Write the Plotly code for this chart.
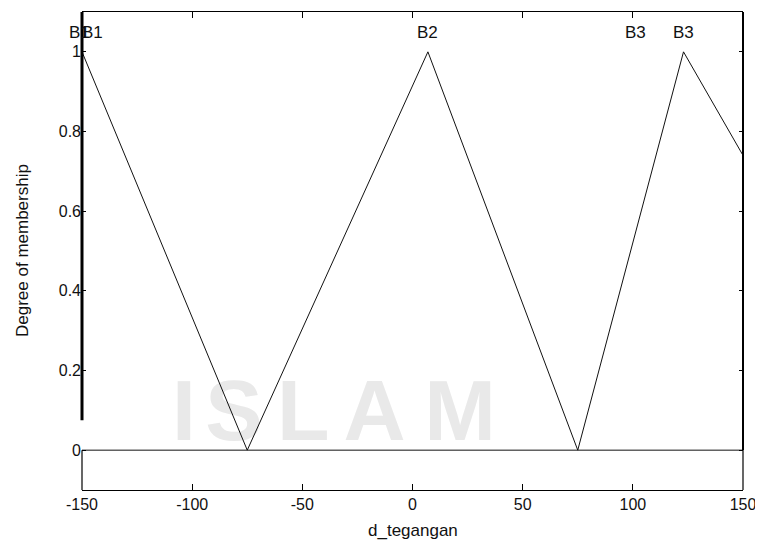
import plotly.graph_objects as go

# ---- data ----
x_ticks = [-150, -100, -50, 0, 50, 100, 150]
x_tick_labels = ["-150", "-100", "-50", "0", "50", "100", "150"]
y_ticks = [0, 0.2, 0.4, 0.6, 0.8, 1]
y_tick_labels = ["0", "0.2", "0.4", "0.6", "0.8", "1"]

b1_x = [-150, -75]
b1_y = [1.0, 0.0]
b2_x = [-75, 7, 75]
b2_y = [0.0, 1.0, 0.0]
b3_x = [75, 123, 150]
b3_y = [0.0, 1.0, 0.74]
base_x = [-150, 150]
base_y = [0.0, 0.0]

label_names = ["B1", "B1", "B2", "B3", "B3"]
label_x = [-151.0, -145.4, 7, 101, 123]
label_y = [1.048, 1.048, 1.048, 1.048, 1.048]

X_RANGE = [-150, 150]
Y_RANGE = [-0.1, 1.1]

FONT = "Liberation Sans, Arial, sans-serif"
TXT = "#111111"

# the page body adds an 8px offset; size the figure to fit the 763x542 window
PAGE_OFFSET = 8
FIG_W, FIG_H = 763 - PAGE_OFFSET, 542 - PAGE_OFFSET
MARGIN = dict(l=82 - PAGE_OFFSET, r=20, t=12 - PAGE_OFFSET, b=52)
PX_PER_X = (FIG_W - MARGIN["l"] - MARGIN["r"]) / (X_RANGE[1] - X_RANGE[0])

fig = go.Figure()
for xs, ys in [(b1_x, b1_y), (b2_x, b2_y), (b3_x, b3_y), (base_x, base_y)]:
    fig.add_trace(go.Scatter(x=xs, y=ys, mode="lines",
                             line=dict(color=TXT, width=1),
                             hoverinfo="skip", showlegend=False))


def py(v):
    return (v - Y_RANGE[0]) / (Y_RANGE[1] - Y_RANGE[0])


shapes = []
# left edge: thick upper part, thin lower box part
shapes.append(dict(type="line", xref="paper", yref="paper", x0=0, x1=0,
                   y0=py(0.075), y1=1, line=dict(color="black", width=3)))
shapes.append(dict(type="line", xref="paper", yref="paper", x0=0, x1=0,
                   y0=0, y1=py(0), line=dict(color="black", width=1.2)))
# right edge
shapes.append(dict(type="line", xref="paper", yref="paper", x0=1, x1=1,
                   y0=py(0), y1=1, line=dict(color="black", width=2)))
shapes.append(dict(type="line", xref="paper", yref="paper", x0=1, x1=1,
                   y0=0, y1=py(0), line=dict(color="black", width=1.2)))

# faint watermark letters (behind the lines)
wm_letters = ["I", "S", "L", "A", "M"]
wm_x = [-103.7, -81.0, -49.6, -17.2, 21.6]
for ch, cx in zip(wm_letters, wm_x):
    shapes.append(dict(type="rect", xref="x", yref="y", x0=cx - 15, x1=cx + 15,
                       y0=0.03, y1=0.21, layer="below",
                       line=dict(width=0), fillcolor="rgba(0,0,0,0)",
                       label=dict(text=ch, textposition="middle center",
                                  font=dict(family=FONT, size=86, color="#e9e9e9",
                                            weight="bold"))))

annotations = [
    dict(text="Degree of membership", xref="paper", yref="paper",
         x=(22 - 82) / 661, y=0.5, xanchor="center", yanchor="middle",
         textangle=-90, showarrow=False,
         font=dict(family=FONT, size=17, color=TXT)),
    dict(text="d_tegangan", xref="paper", yref="paper",
         x=0.5, y=(490 - 530) / 478, xanchor="center", yanchor="middle",
         showarrow=False, font=dict(family=FONT, size=17, color=TXT)),
]
for name, lx, ly in zip(label_names, label_x, label_y):
    # annotations outside the axis range are hidden, so clamp and shift in pixels
    cx = min(max(lx, X_RANGE[0]), X_RANGE[1])
    annotations.append(dict(text=name, xref="x", yref="y", x=cx, y=ly,
                            xshift=(lx - cx) * PX_PER_X,
                            xanchor="center", yanchor="middle", showarrow=False,
                            font=dict(family=FONT, size=17, color=TXT)))

fig.update_layout(
    width=FIG_W, height=FIG_H,
    margin=MARGIN,
    paper_bgcolor="white", plot_bgcolor="white",
    shapes=shapes, annotations=annotations,
    showlegend=False,
    xaxis=dict(range=X_RANGE, tickvals=x_ticks, ticktext=x_tick_labels,
               automargin=False,
               showgrid=False, zeroline=False, showline=True, linecolor="black",
               linewidth=1.2, mirror="ticks", ticks="inside", ticklen=6,
               tickcolor="black", tickwidth=1.2,
               tickfont=dict(family=FONT, size=16, color=TXT)),
    yaxis=dict(range=Y_RANGE, tickvals=y_ticks, ticktext=y_tick_labels,
               automargin=False,
               showgrid=False, zeroline=False, showline=False,
               mirror="ticks", ticks="inside", ticklen=4,
               tickcolor="black", tickwidth=1.2,
               tickfont=dict(family=FONT, size=16, color=TXT)),
)

fig.write_html("out.html")
